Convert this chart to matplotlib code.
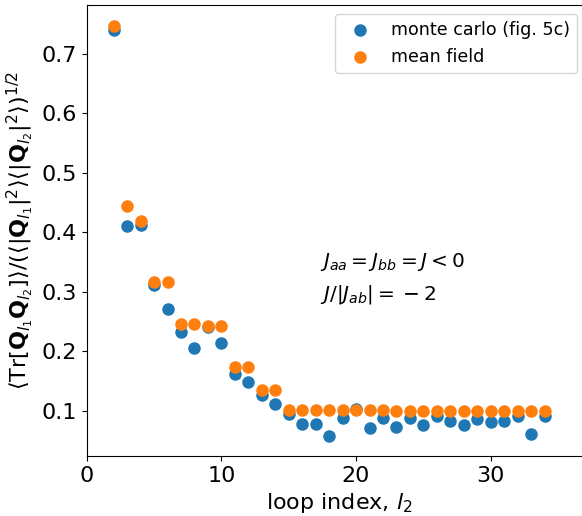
import matplotlib
matplotlib.use("Agg")
import matplotlib.pyplot as plt
import numpy as np

loop_index = list(range(2, 35))
monte_carlo = [0.740, 0.410, 0.413, 0.311, 0.271, 0.233, 0.205, 0.240, 0.213,
               0.161, 0.148, 0.126, 0.111, 0.095, 0.078, 0.078, 0.058, 0.087,
               0.103, 0.071, 0.087, 0.072, 0.088, 0.076, 0.090, 0.083, 0.075,
               0.085, 0.081, 0.083, 0.090, 0.061, 0.090]
mean_field = [0.748, 0.445, 0.419, 0.317, 0.317, 0.246, 0.246, 0.243, 0.243,
              0.173, 0.173, 0.135, 0.135, 0.101, 0.101, 0.101, 0.101, 0.101,
              0.101, 0.101, 0.101, 0.100, 0.100, 0.100, 0.100, 0.099, 0.099,
              0.099, 0.099, 0.099, 0.099, 0.099, 0.099]

fig = plt.figure(figsize=(5.82, 5.16), dpi=100)
ax = fig.add_axes([86.7/582, 1-456/516, 505/582, 451/516])
ax.scatter(loop_index, monte_carlo, s=64, color='#1f77b4', label='monte carlo (fig. 5c)')
ax.scatter(loop_index, mean_field, s=64, color='#ff7f0e', label='mean field')
ax.set_xlim(0, 37.5)
ax.set_xticks([0, 10, 20, 30])
ax.tick_params(labelsize=16)
ax.set_xlabel(r'loop index, $l_2$', fontsize=16)
ax.set_ylabel(r'$\langle \mathrm{Tr}[\mathbf{Q}_{l_1}\mathbf{Q}_{l_2}]\rangle / (\langle |\mathbf{Q}_{l_1}|^2\rangle\langle|\mathbf{Q}_{l_2}|^2\rangle)^{1/2}$', fontsize=16)
leg = ax.legend(loc='upper right', fontsize=12.6, bbox_to_anchor=(577/582, 1 - 14/516),
                bbox_transform=fig.transFigure, borderaxespad=0)
ax.text(0.462, 0.419, r'$J_{aa} = J_{bb} = J < 0$', transform=ax.transAxes, fontsize=14.5, va='baseline')
ax.text(0.462, 0.346, r'$J/|J_{ab}| =\: -\: 2$', transform=ax.transAxes, fontsize=14.5, va='baseline')
fig.savefig('out.png', dpi=100)
